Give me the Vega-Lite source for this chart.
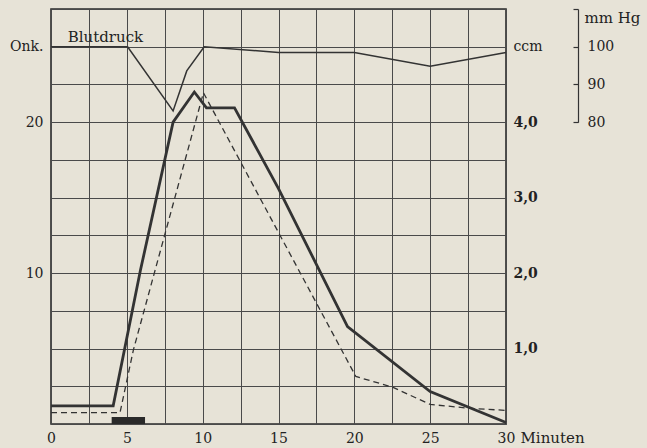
{
  "$schema": "https://vega.github.io/schema/vega-lite/v6.json",
  "width": 455,
  "height": 415,
  "autosize": "none",
  "padding": {"left": 51, "top": 9, "right": 141, "bottom": 24},
  "background": "#e7e3d7",
  "config": {
    "view": {"stroke": "#2b2b2b", "strokeWidth": 1.6},
    "font": "DejaVu Serif",
    "axis": {"labelFont": "DejaVu Serif", "labelColor": "#222222", "labelFontSize": 14, "titleFont": "DejaVu Serif", "titleColor": "#222222"}
  },
  "datasets": {
    "onk": [
      {"t": 0, "v": 1.2}, {"t": 4.1, "v": 1.2}, {"t": 5.9, "v": 10.2}, {"t": 8.05, "v": 20.0},
      {"t": 9.45, "v": 22.0}, {"t": 10.25, "v": 20.95}, {"t": 12.1, "v": 20.95}, {"t": 15, "v": 15.6},
      {"t": 19.55, "v": 6.45}, {"t": 25, "v": 2.15}, {"t": 30, "v": 0.1}
    ],
    "ccm": [
      {"t": 0, "v": 0.15}, {"t": 4.55, "v": 0.15}, {"t": 5.43, "v": 0.98}, {"t": 10.05, "v": 4.39},
      {"t": 20.1, "v": 0.63}, {"t": 22.5, "v": 0.49}, {"t": 25, "v": 0.26}, {"t": 27.5, "v": 0.21}, {"t": 30, "v": 0.18}
    ],
    "bp": [
      {"t": 0, "v": 100}, {"t": 5.05, "v": 100}, {"t": 8.05, "v": 83}, {"t": 8.95, "v": 93.6},
      {"t": 10.1, "v": 100}, {"t": 15, "v": 98.5}, {"t": 20, "v": 98.5}, {"t": 25, "v": 94.8}, {"t": 30, "v": 98.5}
    ],
    "bar": [{"t": 4.0, "t2": 6.2, "v": 0, "v2": 0.46}],
    "lab": [{"t": 1.1, "v": 102.6, "txt": "Blutdruck"}]
  },
  "encoding": {
    "x": {
      "field": "t", "type": "quantitative",
      "scale": {"domain": [0, 30], "nice": false, "zero": false},
      "axis": {
        "orient": "bottom",
        "values": [0, 2.5, 5, 7.5, 10, 12.5, 15, 17.5, 20, 22.5, 25, 27.5, 30],
        "grid": true, "gridColor": "#4a4a4a", "gridWidth": 1,
        "ticks": false, "domain": false, "labelPadding": 7,
        "labelFlush": false, "labelOverlap": false,
        "labelExpr": "datum.value % 5 == 0 ? datum.label : ''",
        "title": "Minuten", "titleFontSize": 15, "titleFontWeight": "normal",
        "titleAlign": "left", "titleBaseline": "middle", "titleAngle": 0,
        "titleX": 469, "titleY": 13
      }
    }
  },
  "layer": [
    {
      "data": {"name": "onk"},
      "mark": {"type": "line", "color": "#333333", "strokeWidth": 2.8, "strokeJoin": "miter"},
      "encoding": {
        "y": {
          "field": "v", "type": "quantitative",
          "scale": {"domain": [0, 27.5], "nice": false, "zero": false},
          "axis": {
            "orient": "left",
            "values": [0, 2.5, 5, 7.5, 10, 12.5, 15, 17.5, 20, 22.5, 25, 27.5],
            "grid": true, "gridColor": "#4a4a4a", "gridWidth": 1,
            "ticks": false, "domain": false, "labelPadding": 8, "labelOverlap": false,
            "labelExpr": "datum.value == 25 ? 'Onk.' : ((datum.value == 10 || datum.value == 20) ? datum.label : '')",
            "title": null
          }
        }
      }
    },
    {
      "data": {"name": "bar"},
      "mark": {"type": "rect", "color": "#2a2a2a"},
      "encoding": {
        "x2": {"field": "t2"},
        "y": {"field": "v", "type": "quantitative", "scale": {"domain": [0, 27.5], "nice": false, "zero": false}, "axis": null},
        "y2": {"field": "v2"}
      }
    },
    {
      "data": {"name": "ccm"},
      "mark": {"type": "line", "color": "#333333", "strokeWidth": 1.3, "strokeDash": [6, 4]},
      "encoding": {
        "y": {
          "field": "v", "type": "quantitative",
          "scale": {"domain": [0, 5.5], "nice": false, "zero": false},
          "axis": {
            "orient": "right", "values": [1, 2, 3, 4, 5],
            "grid": false, "ticks": false, "domain": false, "labelPadding": 7,
            "labelExpr": "datum.value == 5 ? 'ccm' : replace(format(datum.value, '.1f'), '.', ',')",
            "labelFontWeight": {"condition": {"test": "datum.value == 5", "value": "normal"}, "value": "bold"},
            "title": null
          }
        }
      }
    },
    {
      "data": {"name": "bp"},
      "mark": {"type": "line", "color": "#333333", "strokeWidth": 1.5},
      "encoding": {
        "y": {
          "field": "v", "type": "quantitative",
          "scale": {"domain": [80, 110], "range": [113.2, 0], "nice": false, "zero": false},
          "axis": {
            "orient": "right", "offset": 72, "values": [80, 90, 100, 110],
            "grid": false, "domain": true, "domainColor": "#333333", "domainWidth": 1.2,
            "ticks": true, "tickSize": -5, "tickColor": "#333333", "tickWidth": 1.2,
            "labelPadding": 14, "labelAlign": "left",
            "labelExpr": "datum.value == 110 ? '' : datum.label",
            "title": "mm Hg", "titleFontSize": 15, "titleFontWeight": "normal", "titleAngle": 0,
            "titleAlign": "left", "titleBaseline": "middle", "titleX": 6, "titleY": 8
          }
        }
      }
    },
    {
      "data": {"name": "lab"},
      "mark": {"type": "text", "align": "left", "baseline": "middle", "fontSize": 15, "font": "DejaVu Serif", "color": "#222222"},
      "encoding": {
        "y": {"field": "v", "type": "quantitative", "scale": {"domain": [80, 110], "range": [113.2, 0], "nice": false, "zero": false}, "axis": null},
        "text": {"field": "txt"}
      }
    }
  ],
  "resolve": {"scale": {"y": "independent"}, "axis": {"y": "independent"}}
}
